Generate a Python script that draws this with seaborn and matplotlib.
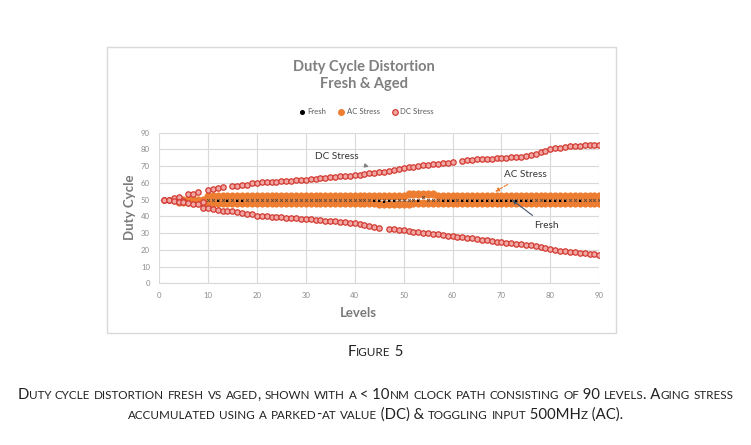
import numpy as np
import pandas as pd
import matplotlib
matplotlib.use("Agg")
import matplotlib.pyplot as plt
import seaborn as sns
from matplotlib.patches import Rectangle
from matplotlib.lines import Line2D

nan = np.nan

# ---- data ----
levels = list(range(1, 91))

dc_upper = [50.0, 50.0, 51.2, 51.6, 49.2, 53.2, 53.2, 54.4, 48.5, 55.8,
            56.6, 57.2, 57.4, nan, 58.0, 58.2, 58.8, 59.0, 59.8, 60.1,
            60.3, 60.5, 60.6, 60.8, 61.0, 61.1, 61.4, 61.6, 61.8, 62.0,
            62.1, 62.3, 62.9, 63.1, 63.3, 63.6, 63.9, 64.2, 64.4, 64.8,
            65.0, 65.3, 65.7, 66.0, 66.4, 66.8, 67.3, 67.8, 68.3, 68.9,
            69.3, 69.7, 70.1, 70.4, 70.8, 71.1, 71.4, 71.7, 72.0, 72.3,
            nan, 73.3, 73.7, 73.9, 74.0, 74.1, 74.3, 74.5, 74.6, 74.8,
            75.0, 75.2, 75.4, 75.6, 76.0, 76.6, 77.3, 78.2, 79.2, 80.0,
            80.6, 81.0, 81.5, 81.8, 82.0, 82.2, 82.4, 82.6, 82.7, 82.8]

dc_lower = [50.0, 49.6, 49.2, 48.8, 48.4, 48.0, 47.6, 47.4, 45.2, 45.2,
            44.6, 43.8, 43.4, 43.2, 43.0, 42.4, 42.0, 41.6, 41.2, 40.4,
            40.2, 40.0, 39.9, 39.8, 39.6, 39.3, 39.1, 38.9, 38.7, 38.5,
            38.3, 38.0, 37.7, 37.4, 37.2, 37.0, 36.8, 36.6, 36.3, 36.0,
            35.6, 35.0, 34.3, 33.6, 33.0, nan, 32.4, 32.2, 32.0, 31.6,
            31.2, 30.9, 30.6, 30.3, 30.0, 29.6, 29.2, 28.8, 28.4, 28.0,
            27.7, 27.4, 27.1, 26.8, 26.4, 26.1, 25.7, 25.3, 24.9, 24.5,
            24.2, 23.9, 23.6, 23.3, 23.0, 22.6, 22.2, 21.7, 21.1, 20.5,
            20.0, 19.6, 19.2, 18.8, 18.5, 18.2, 17.9, 17.7, 17.5, 17.2]

ac_upper = [nan, nan, nan, 49.8, 49.8, 49.8, 49.8, 49.8, 49.8, 52.0,
            52.0, 52.0, 52.0, 52.0, 52.0, 52.0, 52.0, 52.0, 52.0, 52.0,
            52.0, 52.0, 52.0, 52.0, 52.0, 52.0, 52.0, 52.0, 52.0, 52.0,
            52.0, 52.0, 52.0, 52.0, 52.0, 52.0, 52.0, 52.0, 52.0, 52.0,
            52.0, 52.0, 52.0, 52.0, 52.0, 52.0, 52.0, 52.0, 52.0, 52.0,
            53.2, 53.2, 53.2, 53.2, 53.2, 53.2, 52.0, 52.0, 52.0, 52.0,
            52.0, 52.0, 52.0, 52.0, 52.0, 52.0, 52.0, 52.0, 52.0, 52.0,
            52.0, 52.0, 52.0, 52.0, 52.0, 52.0, 52.0, 52.0, 52.0, 52.0,
            52.0, 52.0, 52.0, 52.0, 52.0, 52.0, 52.0, 52.0, 52.0, 52.0]

ac_lower = [nan, nan, nan, 48.8, 48.8, 48.8, 48.8, 48.8, 48.8, 48.0,
            48.0, 48.0, 48.0, 48.0, 48.0, 48.0, 48.0, 48.0, 48.0, 48.0,
            48.0, 48.0, 48.0, 48.0, 48.0, 48.0, 48.0, 48.0, 48.0, 48.0,
            48.0, 48.0, 48.0, 48.0, 48.0, 48.0, 48.0, 48.0, 48.0, 48.0,
            48.0, 48.0, 48.0, 48.0, 47.2, 47.2, 47.2, 47.2, 47.2, 47.2,
            47.2, 48.0, 48.0, 48.0, 48.0, 48.0, 48.0, 48.0, 48.0, 48.0,
            48.0, 48.0, 48.0, 48.0, 48.0, 48.0, 48.0, 48.0, 48.0, 48.0,
            48.0, 48.0, 48.0, 48.0, 48.0, 48.0, 48.0, 48.0, 48.0, 48.0,
            48.0, 48.0, 48.0, 48.0, 48.0, 48.0, 48.0, 48.0, 48.0, 48.0]

# fresh: upper half drawn as small x marks, lower half as black dots
fresh_hi = [nan, nan, nan, nan, nan, nan, nan, nan, nan, 50.0,
            50.0, 50.0, 50.0, 50.0, 50.0, 50.0, 50.0, 50.0, 50.0, 50.0,
            50.0, 50.0, 50.0, 50.0, 50.0, 50.0, 50.0, 50.0, 50.0, 50.0,
            50.0, 50.0, 50.0, 50.0, 50.0, 50.0, 50.0, 50.0, 50.0, 50.0,
            50.0, 50.0, 50.0, 50.0, 50.0, 50.0, 50.0, 50.0, 50.0, 50.0,
            50.0, 50.0, 50.0, 51.4, 50.0, 50.0, 50.0, 50.0, 50.0, 50.0,
            50.0, 50.0, 50.0, 50.0, 50.0, 50.0, 50.0, 50.0, 50.0, 50.0,
            50.0, 50.0, 50.0, 50.0, 50.0, 50.0, 50.0, 50.0, 50.0, 50.0,
            50.0, 50.0, 50.0, 50.0, 50.0, 50.0, 50.0, 50.0, 50.0, 50.0]

fresh_lo = [nan, nan, nan, nan, nan, nan, nan, nan, nan, nan,
            nan, 49.2, nan, 49.2, nan, 49.4, 49.4, nan, nan, nan,
            nan, nan, nan, nan, nan, nan, nan, nan, nan, nan,
            nan, nan, nan, nan, nan, nan, nan, nan, nan, nan,
            nan, nan, nan, 49.2, 49.2, 48.4, 49.2, 49.2, nan, nan,
            nan, nan, 49.2, nan, nan, nan, nan, 49.3, 49.3, 49.3,
            nan, 49.3, 49.3, 49.3, 49.3, 49.3, 49.3, 49.3, 49.3, 49.3,
            49.3, 49.3, 49.3, 49.3, 49.3, 49.3, nan, nan, 49.3, 49.3,
            49.3, 49.3, 49.3, nan, nan, 49.3, nan, nan, nan, nan]

x_ticks = list(range(0, 91, 10))
y_ticks = list(range(0, 91, 10))
series_names = ["Fresh", "AC Stress", "DC Stress"]
title = "Duty Cycle Distortion\nFresh & Aged"
caption_head = "Figure 5"
caption_lines = [
    "Duty cycle distortion fresh vs aged, shown with a < 10nm clock path consisting of 90 levels. Aging stress",
    "accumulated using a parked-at value (DC) & toggling input 500MHz (AC).",
]

# ---- style ----
sns.set_theme(style="white")
plt.rcParams["font.family"] = ["Lato", "DejaVu Sans"]

ORANGE = "#ed7d31"
DC_EDGE = "#d23a32"
DC_FACE = "#f1a7a4"
GRID = "#d9d9d9"
TICK = "#8c8c8c"
LABEL = "#7a7a7a"

fig = plt.figure(figsize=(7.51, 4.45), dpi=100)
fig.patch.set_facecolor("white")

# chart area border
fig.add_artist(Rectangle((107 / 751, 1 - 333 / 445), 509 / 751, 286 / 445,
                         transform=fig.transFigure, fill=False,
                         edgecolor="#d9d9d9", linewidth=1.0))

ax = fig.add_axes([159 / 751, 1 - 283.3 / 445, 440.3 / 751, 150.6 / 445])

sns.scatterplot(x=levels, y=ac_upper, ax=ax, s=30, color=ORANGE,
                edgecolor=ORANGE, linewidth=0.3, legend=False, zorder=3)
sns.scatterplot(x=levels, y=ac_lower, ax=ax, s=30, color=ORANGE,
                edgecolor=ORANGE, linewidth=0.3, legend=False, zorder=3)
sns.scatterplot(x=levels, y=fresh_hi, ax=ax, s=4, marker="x", color="#5a4a40",
                linewidth=0.6, legend=False, zorder=4)
sns.scatterplot(x=levels, y=fresh_lo, ax=ax, s=2.5, marker="s", color="black",
                linewidth=0, legend=False, zorder=4)
sns.scatterplot(x=levels, y=dc_upper, ax=ax, s=15, color=DC_FACE,
                edgecolor=DC_EDGE, linewidth=0.9, legend=False, zorder=5)
sns.scatterplot(x=levels, y=dc_lower, ax=ax, s=15, color=DC_FACE,
                edgecolor=DC_EDGE, linewidth=0.9, legend=False, zorder=5)

ax.set_xlim(0, 90)
ax.set_ylim(0, 90)
ax.set_xticks(x_ticks)
ax.set_yticks(y_ticks)
ax.grid(True, color=GRID, linewidth=0.8)
ax.set_axisbelow(True)
for side in ["top", "right", "left"]:
    ax.spines[side].set_visible(False)
ax.spines["bottom"].set_color(GRID)
ax.spines["bottom"].set_linewidth(0.8)
ax.tick_params(axis="both", length=0, labelsize=5.6, labelcolor=TICK)
ax.tick_params(axis="y", pad=6.5)
ax.tick_params(axis="x", pad=6)

ax.set_xlabel("Levels", fontsize=9.5, fontweight="bold", color=LABEL)
ax.set_ylabel("Duty Cycle", fontsize=9.5, fontweight="bold", color=LABEL)
ax.xaxis.set_label_coords(0.453, -0.155)
ax.yaxis.set_label_coords(-0.052, 0.504)

# annotations
ax.annotate("DC Stress", xy=(42.9, 69.6), xytext=(36.4, 75.7), fontsize=7.2,
            color="#333333", ha="center", va="center",
            arrowprops=dict(arrowstyle="-|>", color="#808080", lw=0.8,
                            mutation_scale=6, shrinkA=3, shrinkB=0))
ax.annotate("AC Stress", xy=(68.7, 54.8), xytext=(74.8, 64.9), fontsize=7.2,
            color="#333333", ha="center", va="center",
            arrowprops=dict(arrowstyle="-|>", color=ORANGE, lw=0.8, ls="--",
                            mutation_scale=6, shrinkA=3, shrinkB=0))
ax.annotate("Fresh", xy=(72.2, 49.8), xytext=(79.1, 34.4), fontsize=7.2,
            color="#333333", ha="center", va="center",
            arrowprops=dict(arrowstyle="-|>", color="#44546a", lw=0.8,
                            mutation_scale=6, shrinkA=3, shrinkB=0))

# title and legend
fig.text(363.5 / 751, 1 - 75.5 / 445, title, ha="center", va="center",
         fontsize=10.5, fontweight="bold", color="#7f7f7f", linespacing=1.35)

handles = [
    Line2D([], [], ls="", marker="o", markersize=2.6, color="black"),
    Line2D([], [], ls="", marker="o", markersize=4, color=ORANGE),
    Line2D([], [], ls="", marker="o", markersize=4, markerfacecolor=DC_FACE,
           markeredgecolor=DC_EDGE, markeredgewidth=0.9),
]
fig.legend(handles, series_names, loc="center", bbox_to_anchor=(366 / 751, 1 - 112 / 445),
           ncol=3, frameon=False, fontsize=5.6, labelcolor="#595959",
           handletextpad=0.2, columnspacing=1.4, handlelength=1.0)

# ---- caption in small caps ----
renderer = fig.canvas.get_renderer()
CAP_FAMILY = ["Lato", "DejaVu Sans"]
CAP_COLOR = "#222222"
RATIO = 0.78


def advance(s, size):
    a = fig.text(0, 0, "|" + s + "|", fontsize=size, family=CAP_FAMILY)
    b = fig.text(0, 0, "||", fontsize=size, family=CAP_FAMILY)
    w = a.get_window_extent(renderer).width - b.get_window_extent(renderer).width
    a.remove()
    b.remove()
    return w


def runs_of(text, size):
    out = []
    for ch in text:
        small = ch.islower()
        c = ch.upper() if small else ch
        sz = size * RATIO if small else size
        if out and out[-1][1] == sz:
            out[-1][0] += c
        else:
            out.append([c, sz])
    return out


def line_width(text, size):
    return sum(advance(s, sz) for s, sz in runs_of(text, size))


def draw_small_caps(text, size, y_px):
    runs = runs_of(text, size)
    widths = [advance(s, sz) for s, sz in runs]
    x = 751 / 2 - sum(widths) / 2
    for (s, sz), w in zip(runs, widths):
        fig.text(x / 751, 1 - y_px / 445, s, fontsize=sz, family=CAP_FAMILY,
                 color=CAP_COLOR, ha="left", va="baseline")
        x += w


base = 11.0
base = base * 716 / line_width(caption_lines[0], base)
draw_small_caps(caption_head, base, 356)
draw_small_caps(caption_lines[0], base, 399)
draw_small_caps(caption_lines[1], base, 419)

fig.savefig("out.png", dpi=100, facecolor="white")
